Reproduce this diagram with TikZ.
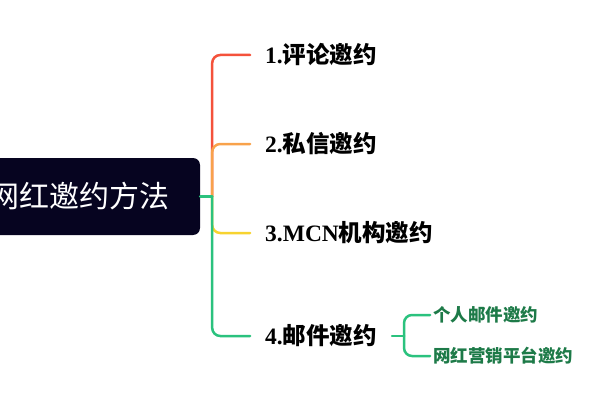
\documentclass[tikz,border=0pt]{standalone}
\usepackage{fontspec}
\setmainfont{Liberation Serif}
\newfontfamily\cjk{Noto Sans CJK SC}
\usepackage{xcolor}
\usetikzlibrary{positioning, calc}

\definecolor{rootbg}{HTML}{060420}
\definecolor{lred}{HTML}{F4523B}
\definecolor{lorange}{HTML}{F8A24B}
\definecolor{lyellow}{HTML}{F7D330}
\definecolor{lgreen}{HTML}{2BC27E}
\definecolor{subtext}{HTML}{1D7A48}

\begin{document}
\begin{tikzpicture}[
  x=1pt, y=-1pt,
  rootbox/.style={fill=rootbg, rounded corners=7pt, minimum width=240pt, minimum height=77pt,
                  text=white, font=\cjk\fontsize{30}{32}\selectfont},
  branch/.style={anchor=west, inner xsep=15pt, font=\bfseries\fontsize{23.5}{25}\selectfont},
  leaf/.style={anchor=west, inner xsep=3pt, text=subtext, font=\cjk\bfseries\fontsize{17.5}{19}\selectfont},
  link/.style={line width=2.5pt, rounded corners=8pt, line cap=round},
]
\useasboundingbox (0,0) rectangle (600,420);

% root
\node[rootbox] (root) at (80,196.5) {网红邀约方法};

% main branches
\node[branch] (b1) at (250,55)  {1.{\cjk 评论邀约}};
\node[branch] (b2) at (250,144) {2.{\cjk 私信邀约}};
\node[branch] (b3) at (250,233) {3.MCN{\cjk 机构邀约}};
\node[branch] (b4) at (250,336) {4.{\cjk 邮件邀约}};

% sub branches of 4
\node[leaf] (s1) at (430,315) {个人邮件邀约};
\node[leaf] (s2) at (430,356) {网红营销平台邀约};

% connectors
\coordinate (j) at ([xshift=12pt]root.east);
\draw[link, lred]    (j) |- (b1.west);
\draw[link, lorange] (j) |- (b2.west);
\draw[link, lyellow] (j) |- (b3.west);
\draw[link, lgreen]  (j) |- (b4.west);
\draw[link, lgreen]  (root.east) -- (j);

\coordinate (k) at ([xshift=12pt]b4.east);
\draw[link, lgreen] (b4.east) -- (k);
\draw[link, lgreen] (k) |- (s1.west);
\draw[link, lgreen] (k) |- (s2.west);

\end{tikzpicture}
\end{document}
